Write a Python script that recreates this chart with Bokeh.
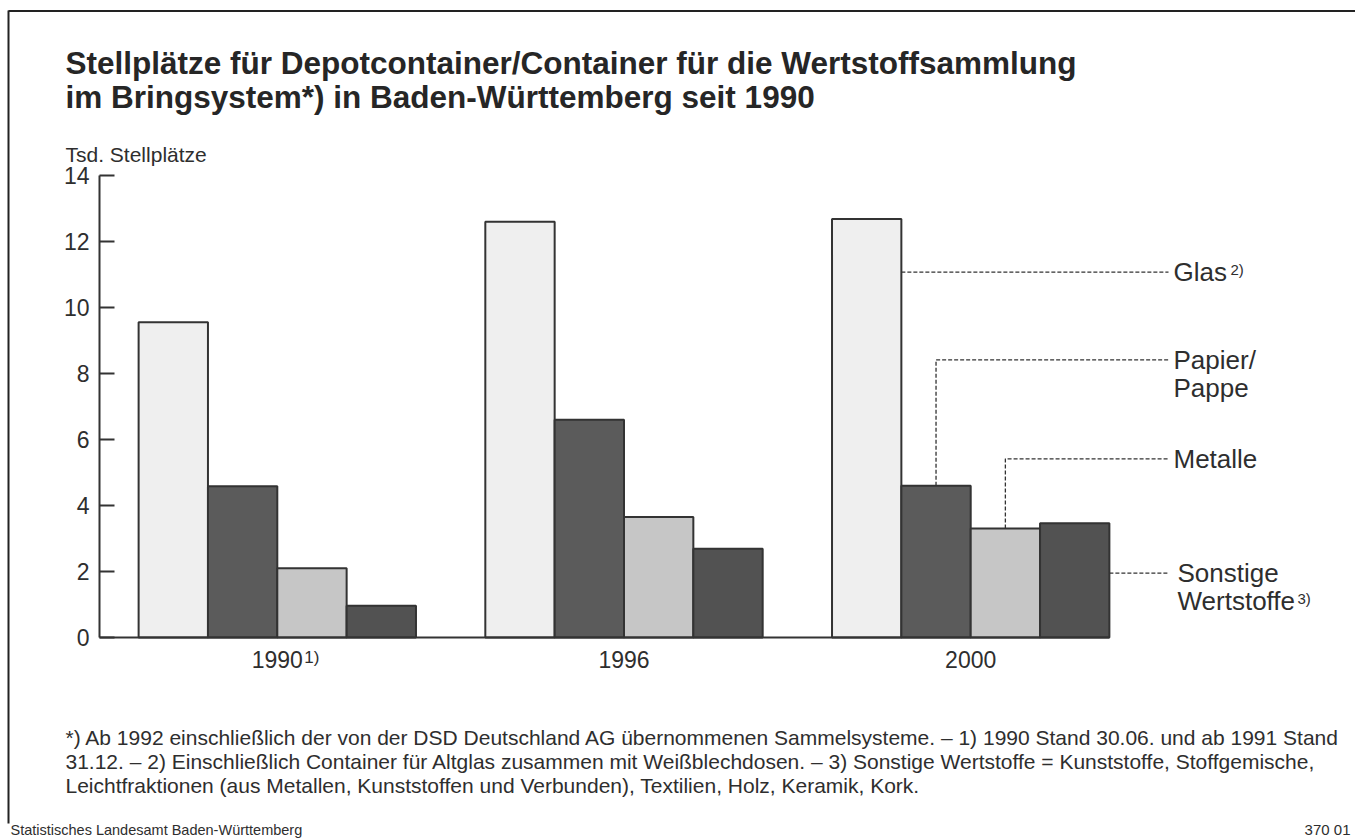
from bokeh.plotting import figure
from bokeh.models import Range1d, FixedTicker
from bokeh.core.properties import value
from bokeh.embed import file_html
from bokeh.resources import INLINE

# ---------------- data ----------------
years = ["1990", "1996", "2000"]
year_notes = ["1)", "", ""]
series = ["Glas", "Papier/Pappe", "Metalle", "Sonstige Wertstoffe"]
glas = [9.55, 12.6, 12.68]
papier = [4.58, 6.6, 4.6]
metalle = [2.1, 3.65, 3.3]
sonstige = [0.96, 2.69, 3.46]
y_ticks = [0, 2, 4, 6, 8, 10, 12, 14]

title_lines = ["Stellplätze für Depotcontainer/Container für die Wertstoffsammlung",
               "im Bringsystem*) in Baden-Württemberg seit 1990"]
unit_label = "Tsd. Stellplätze"
footnotes = [
    "*) Ab 1992 einschließlich der von der DSD Deutschland AG übernommenen Sammelsysteme. – 1) 1990 Stand 30.06. und ab 1991 Stand",
    "31.12. – 2) Einschließlich Container für Altglas zusammen mit Weißblechdosen. – 3) Sonstige Wertstoffe = Kunststoffe, Stoffgemische,",
    "Leichtfraktionen (aus Metallen, Kunststoffen und Verbunden), Textilien, Holz, Keramik, Kork.",
]
source_text = "Statistisches Landesamt Baden-Württemberg"
chart_no = "370 01"

# ---------------- layout (page pixels) ----------------
W, H = 1355, 840
GX0, GSTEP = 276.8, 346.7      # page x of first group centre, group spacing
Y0, YPX = 637.0, 33.0          # page y of value 0, pixels per unit


def px(x):
    return (x - GX0) / GSTEP


def py(y):
    return (Y0 - y) / YPX


BAR_W = 0.2
offsets = [-0.3, -0.1, 0.1, 0.3]
fills = ["#efefef", "#5b5b5b", "#c6c6c6", "#525252"]
LINE = "#333333"
TXT = "#2e2e2e"
FONT = "Liberation Sans"

p = figure(width=W, height=H, output_backend="svg", toolbar_location=None,
           x_range=Range1d(px(0), px(W)),
           y_range=Range1d(py(H), py(0)),
           x_axis_location=None, min_border=0,
           min_border_left=0, min_border_right=0, min_border_top=0, min_border_bottom=0)
p.outline_line_color = None
p.grid.grid_line_color = None
p.background_fill_color = "white"
p.border_fill_color = "white"

# y axis
ya = p.yaxis[0]
ya.fixed_location = px(99)
ya.bounds = (y_ticks[0], y_ticks[-1])
ya.ticker = FixedTicker(ticks=y_ticks)
ya.major_tick_in = 15
ya.major_tick_out = 0
ya.minor_tick_line_color = None
ya.axis_line_width = 2
ya.axis_line_color = LINE
ya.major_tick_line_width = 2
ya.major_tick_line_color = LINE
ya.major_label_text_font = FONT
ya.major_label_text_font_size = "23px"
ya.major_label_text_color = TXT
ya.major_label_standoff = 10

# bars
n = len(years)
all_vals = [glas, papier, metalle, sonstige]
for k, vals in enumerate(all_vals):
    xs = [i + offsets[k] for i in range(n)]
    p.vbar(x=xs, width=BAR_W, bottom=0, top=vals, fill_color=fills[k],
           line_color=LINE, line_width=2)

# baseline
p.segment(x0=[px(99)], y0=[0], x1=[n - 1 + offsets[-1] + BAR_W / 2], y1=[0],
          line_color=LINE, line_width=2)


def txt(x, y, s, size, bold=False, align="left", xo=0, yo=0, color=TXT):
    p.text(x=[x], y=[y], text=[s], text_font=value(FONT), text_font_size=f"{size}px",
           text_font_style="bold" if bold else "normal", text_align=align,
           text_baseline="middle", text_color=color, x_offset=xo, y_offset=yo)


# category labels
for i, (yr, note) in enumerate(zip(years, year_notes)):
    txt(i, 0, yr, 23, align="center", yo=22)
    if note:
        txt(i, 0, note, 17, xo=27, yo=20)

# leader lines to series labels
last = n - 1
lead_end = px(1168)
lead_y = [py(271.7), py(359.3), py(458.3), py(572.7)]
leader_xs = [
    [last + offsets[0] + BAR_W / 2, lead_end],
    [last + offsets[1], last + offsets[1], lead_end],
    [last + offsets[2], last + offsets[2], lead_end],
    [last + offsets[3] + BAR_W / 2, lead_end],
]
leader_ys = [
    [lead_y[0], lead_y[0]],
    [papier[last], lead_y[1], lead_y[1]],
    [metalle[last], lead_y[2], lead_y[2]],
    [lead_y[3], lead_y[3]],
]
p.multi_line(xs=leader_xs, ys=leader_ys, line_color=LINE, line_width=1.3, line_dash="4 2")

lx = px(1173)
txt(lx, lead_y[0], "Glas", 26)
txt(lx, lead_y[0], "2)", 15, xo=57, yo=-3)
txt(lx, lead_y[1], "Papier/", 26)
txt(lx, lead_y[1], "Pappe", 26, yo=28)
txt(lx, lead_y[2], "Metalle", 26)
txt(px(1177), lead_y[3], "Sonstige", 26)
txt(px(1177), lead_y[3], "Wertstoffe", 26, yo=28)
txt(px(1177), lead_y[3], "3)", 15, xo=120, yo=25)

# titles and notes
txt(px(65), py(62), title_lines[0], 31.5, bold=True, color="#262626")
txt(px(65), py(96), title_lines[1], 31.5, bold=True, color="#262626")
txt(px(65), py(154), unit_label, 21)
for j, line in enumerate(footnotes):
    txt(px(65), py(737 + 24 * j), line, 21)
txt(px(10), py(829), source_text, 14.5)
txt(px(1350), py(829), chart_no, 15, align="right")

# frame lines of the sheet
p.segment(x0=[px(8)], y0=[py(10)], x1=[px(8)], y1=[py(823)], line_color="#222222", line_width=2)
p.segment(x0=[px(8)], y0=[py(10.5)], x1=[px(W)], y1=[py(10.5)],
          line_color="#222222", line_width=2)

open("out.html", "w").write(file_html(p, INLINE))
